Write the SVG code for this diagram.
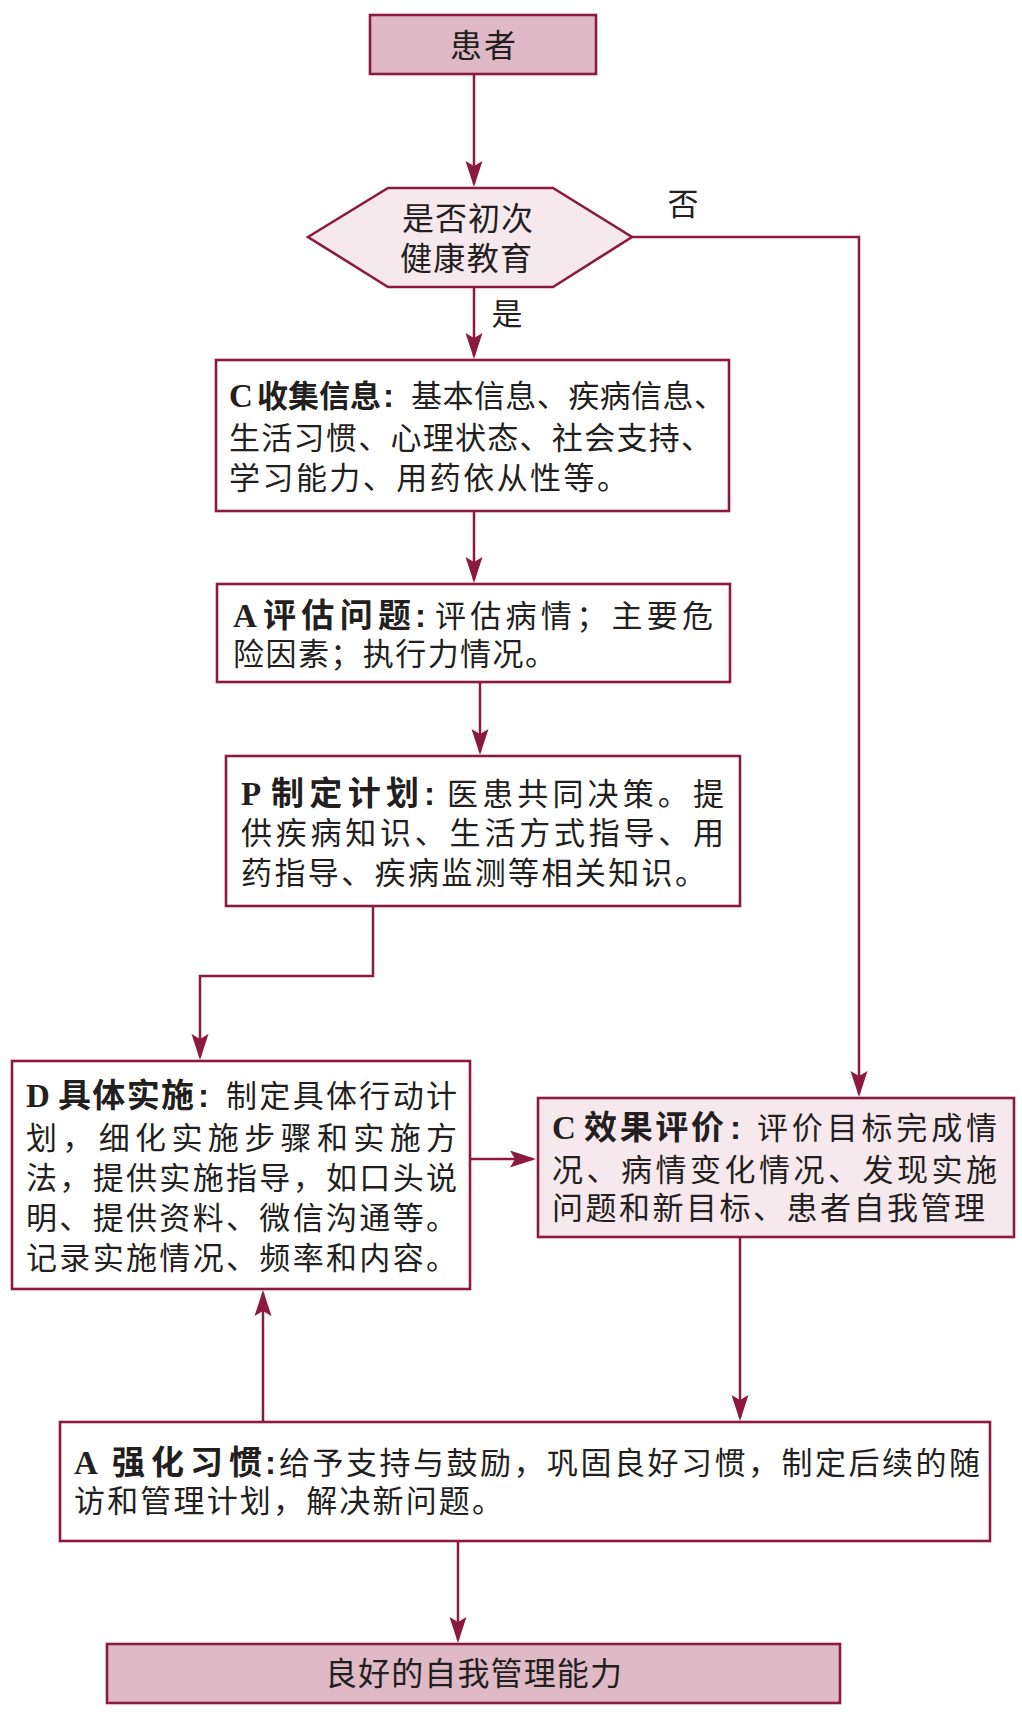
<svg xmlns="http://www.w3.org/2000/svg" width="1022" height="1712" viewBox="0 0 1022 1712">
<style>
.box{stroke:#8c1a3e;stroke-width:2.6;fill:#ffffff}
.dark{fill:#dfb9c6}
.light{fill:#f6e9ee}
.ln{fill:none;stroke:#8c1a3e;stroke-width:2.5}
.t{font-family:"Liberation Sans","Noto Sans CJK SC",sans-serif;font-size:31px;fill:#231f20}
.tt{font-family:"Liberation Sans","Noto Sans CJK SC",sans-serif;font-size:32px;fill:#231f20}
.b{font-family:"Liberation Sans","Noto Sans CJK SC",sans-serif;font-weight:bold;font-size:33px;fill:#231f20}
.lat{font-family:"Liberation Serif",serif;font-weight:bold;font-size:33px;fill:#231f20}
</style>
<defs>
<marker id="ah" markerUnits="userSpaceOnUse" viewBox="-30 -10 32 20" markerWidth="32" markerHeight="20" refX="-3" refY="0" orient="auto">
<path d="M0,0 L-26,-8.5 L-21,0 L-26,8.5 Z" fill="#8c1a3e"/>
</marker>
</defs>
<g id="connectors">
<path class="ln" d="M474,74 V184" marker-end="url(#ah)"/>
<path class="ln" d="M474,287 V356" marker-end="url(#ah)"/>
<path class="ln" d="M632,237 H859 V1094" marker-end="url(#ah)"/>
<path class="ln" d="M474,511 V580" marker-end="url(#ah)"/>
<path class="ln" d="M480,682 V752" marker-end="url(#ah)"/>
<path class="ln" d="M373,906 V976 H200 V1057" marker-end="url(#ah)"/>
<path class="ln" d="M470,1159 H533" marker-end="url(#ah)"/>
<path class="ln" d="M740,1237 V1418" marker-end="url(#ah)"/>
<path class="ln" d="M263,1422 V1293" marker-end="url(#ah)"/>
<path class="ln" d="M458,1541 V1640" marker-end="url(#ah)"/>
<text class="t" x="507" y="325" text-anchor="middle">是</text>
<text class="t" x="683" y="215" text-anchor="middle">否</text>
</g>
<g id="patient">
<rect class="box dark" x="370" y="15" width="226" height="59"/>
<text class="tt" x="450" y="57" textLength="66" lengthAdjust="spacing">患者</text>
</g>
<g id="decision">
<polygon class="box light" points="308,237 388,188 553,188 632,237 553,287 388,287"/>
<text class="tt" x="402" y="230" textLength="131" lengthAdjust="spacing">是否初次</text>
<text class="tt" x="400" y="270" textLength="132" lengthAdjust="spacing">健康教育</text>
</g>
<g id="collect">
<rect class="box" x="216" y="360" width="513" height="151"/>
<text class="lat" x="229" y="407">C</text>
<text class="b" x="257" y="407" style="font-size:31px" textLength="124" lengthAdjust="spacing">收集信息</text>
<text class="b" x="383" y="407">:</text>
<text class="t" x="411" y="407" textLength="314" lengthAdjust="spacing">基本信息、疾病信息、</text>
<text class="t" x="229" y="449" textLength="483" lengthAdjust="spacing">生活习惯、心理状态、社会支持、</text>
<text class="t" x="229" y="489" textLength="399" lengthAdjust="spacing">学习能力、用药依从性等。</text>
</g>
<g id="assess">
<rect class="box" x="217" y="584" width="513" height="98"/>
<text class="lat" x="233" y="627">A</text>
<text class="b" x="263" y="627" textLength="148" lengthAdjust="spacing">评估问题</text>
<text class="b" x="415" y="627">:</text>
<text class="t" x="435" y="627" textLength="278" lengthAdjust="spacing">评估病情；主要危</text>
<text class="t" x="233" y="665" textLength="323" lengthAdjust="spacing">险因素；执行力情况。</text>
</g>
<g id="plan">
<rect class="box" x="226" y="756" width="514" height="150"/>
<text class="lat" x="241" y="805">P</text>
<text class="b" x="271" y="805" textLength="148" lengthAdjust="spacing">制定计划</text>
<text class="b" x="424" y="805">:</text>
<text class="t" x="447" y="805" textLength="277" lengthAdjust="spacing">医患共同决策。提</text>
<text class="t" x="241" y="844" textLength="483" lengthAdjust="spacing">供疾病知识、生活方式指导、用</text>
<text class="t" x="241" y="884" textLength="465" lengthAdjust="spacing">药指导、疾病监测等相关知识。</text>
</g>
<g id="do">
<rect class="box" x="12" y="1061" width="458" height="228"/>
<text class="lat" x="26" y="1107">D</text>
<text class="b" x="58" y="1107" textLength="136" lengthAdjust="spacing">具体实施</text>
<text class="b" x="198" y="1107">:</text>
<text class="t" x="226" y="1107" textLength="231" lengthAdjust="spacing">制定具体行动计</text>
<text class="t" x="26" y="1149" textLength="431" lengthAdjust="spacing">划，细化实施步骤和实施方</text>
<text class="t" x="26" y="1189" textLength="431" lengthAdjust="spacing">法，提供实施指导，如口头说</text>
<text class="t" x="26" y="1229" textLength="431" lengthAdjust="spacing">明、提供资料、微信沟通等。</text>
<text class="t" x="26" y="1269" textLength="431" lengthAdjust="spacing">记录实施情况、频率和内容。</text>
</g>
<g id="check">
<rect class="box light" x="538" y="1098" width="476" height="139"/>
<text class="lat" x="552" y="1139">C</text>
<text class="b" x="584" y="1139" textLength="140" lengthAdjust="spacing">效果评价</text>
<text class="b" x="730" y="1139">:</text>
<text class="t" x="757" y="1139" textLength="240" lengthAdjust="spacing">评价目标完成情</text>
<text class="t" x="552" y="1181" textLength="445" lengthAdjust="spacing">况、病情变化情况、发现实施</text>
<text class="t" x="552" y="1219" textLength="433" lengthAdjust="spacing">问题和新目标、患者自我管理</text>
</g>
<g id="act">
<rect class="box" x="60" y="1422" width="930" height="119"/>
<text class="lat" x="74" y="1474">A</text>
<text class="b" x="112" y="1474" textLength="150" lengthAdjust="spacing">强化习惯</text>
<text class="b" x="265" y="1474">:</text>
<text class="t" x="279" y="1474" textLength="701" lengthAdjust="spacing">给予支持与鼓励，巩固良好习惯，制定后续的随</text>
<text class="t" x="74" y="1512" textLength="429" lengthAdjust="spacing">访和管理计划，解决新问题。</text>
</g>
<g id="result">
<rect class="box dark" x="107" y="1644" width="733" height="59"/>
<text class="tt" x="325" y="1685" textLength="297" lengthAdjust="spacing">良好的自我管理能力</text>
</g>
</svg>
